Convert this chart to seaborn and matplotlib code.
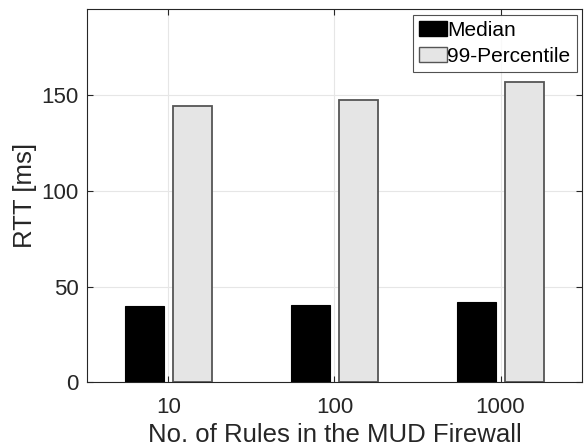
import matplotlib
matplotlib.use("Agg")
import matplotlib.pyplot as plt
import seaborn as sns
import pandas as pd
from matplotlib.patches import Patch

rules = ["10", "100", "1000"]
median = [39.9, 40.6, 41.7]
p99 = [144.6, 147.7, 157.1]
series_names = ["Median", "99-Percentile"]
yticks = [0, 50, 100, 150]

df = pd.DataFrame({
    "rules": rules * 2,
    "rtt": median + p99,
    "series": [series_names[0]] * 3 + [series_names[1]] * 3,
})

sns.set_theme(style="white")
plt.rcParams["font.family"] = ["Liberation Sans", "DejaVu Sans"]

fig = plt.figure(figsize=(5.86, 4.48), dpi=100)
ax = fig.add_axes([0.1485, 0.147, 0.8445, 0.832])

colors = {"Median": "#000000", "99-Percentile": "#e5e5e5"}
sns.barplot(data=df, x="rules", y="rtt", hue="series", order=rules,
            hue_order=series_names, palette=colors, width=0.58, gap=0.2,
            ax=ax, legend=False, saturation=1)

# edge colours
n = len(rules)
for i, p in enumerate(ax.patches):
    if i < n:
        p.set_edgecolor("#000000")
        p.set_linewidth(0.8)
    else:
        p.set_edgecolor("#555555")
        p.set_linewidth(1.3)
    p.set_zorder(3)

ax.set_xlim(-0.49, 2.49)
ax.set_ylim(0, 195)
ax.set_yticks(yticks)
ax.grid(True, color="#e6e6e6", linewidth=0.8, zorder=0)
ax.set_axisbelow(True)

ax.tick_params(axis="both", direction="in", length=4, width=0.8,
               colors="#262626", labelsize=16, top=True, right=True,
               bottom=True, left=True)
ax.tick_params(axis="x", pad=11)
ax.tick_params(axis="y", pad=6)
for s in ax.spines.values():
    s.set_color("#262626")
    s.set_linewidth(0.8)
    s.set_visible(True)

ax.set_xlabel("No. of Rules in the MUD Firewall", fontsize=18.5, color="#262626", labelpad=3)
ax.set_ylabel("RTT [ms]", fontsize=18.5, color="#262626", labelpad=3)

handles = [Patch(facecolor="#000000", edgecolor="#000000"),
           Patch(facecolor="#e5e5e5", edgecolor="#555555")]
leg = ax.legend(handles, series_names, loc="upper right", fontsize=15,
                frameon=True, fancybox=False, handlelength=1.35, handleheight=0.72,
                handletextpad=0.02, borderpad=0.3, labelspacing=0.32,
                borderaxespad=0.25, edgecolor="#262626")
leg.get_frame().set_linewidth(0.8)
for t in leg.get_texts():
    t.set_color("#000000")

fig.savefig("out.png", dpi=100)
